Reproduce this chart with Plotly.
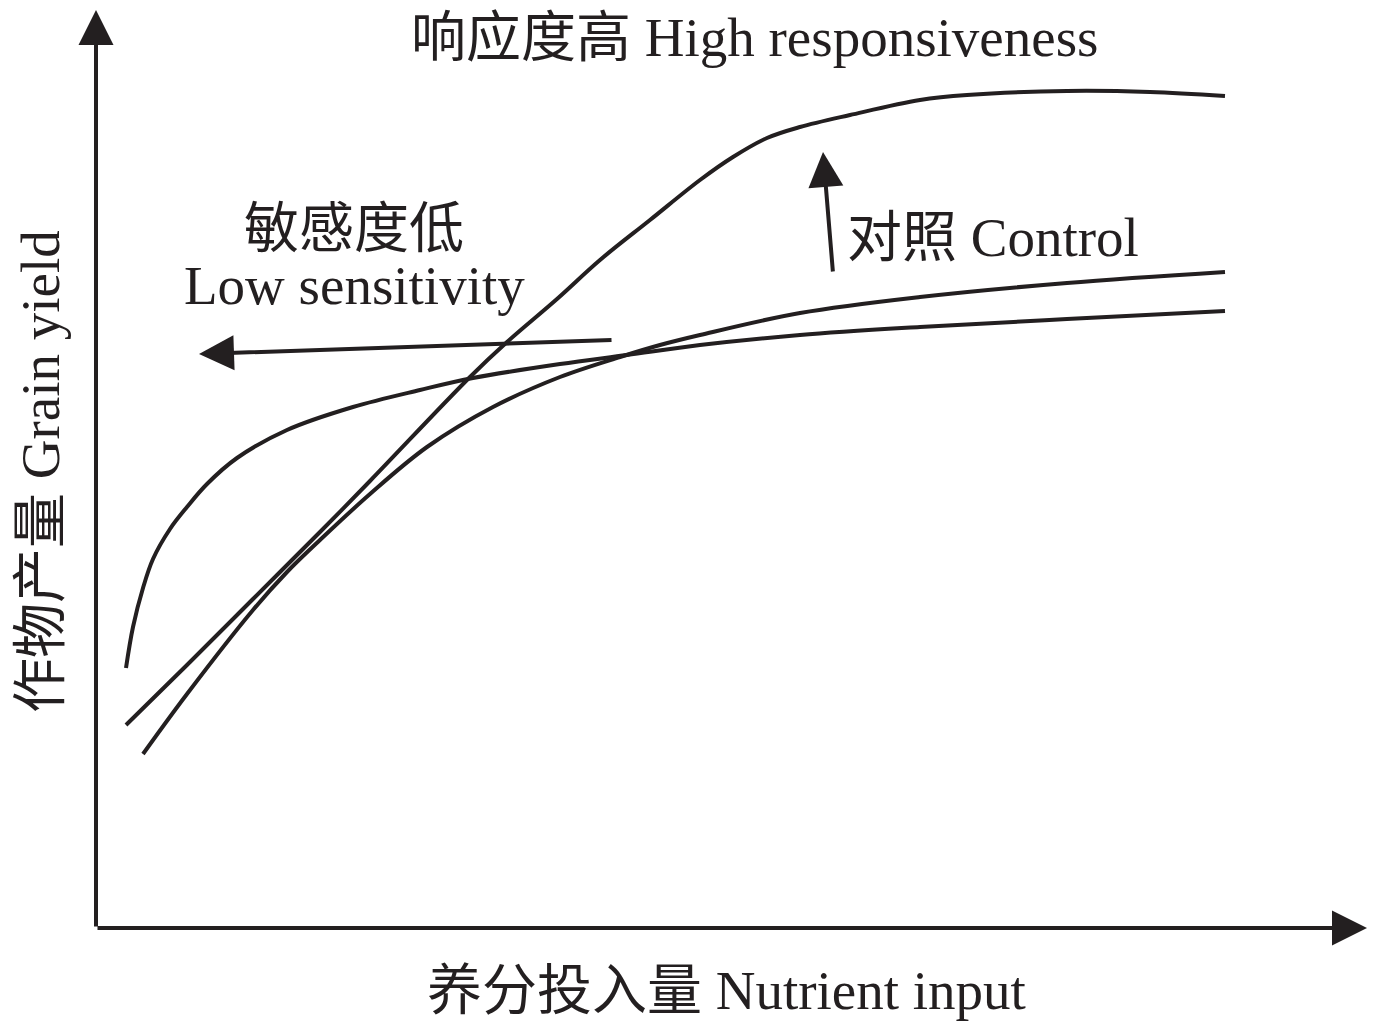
import plotly.graph_objects as go

# Conceptual yield response to nutrient input (arbitrary units, origin at axis corner)
high_x = [30, 91, 157, 224, 274, 374, 411, 461, 504, 554, 604, 637, 671, 704, 754, 824, 871, 971, 1054, 1129]
high_y = [203, 263, 329, 396, 447, 551, 586, 629, 668, 708, 748, 771, 790, 801, 813, 828, 833, 837, 836, 832]

control_x = [47, 91, 157, 191, 224, 274, 331, 397, 464, 524, 564, 604, 704, 824, 971, 1129]
control_y = [174, 234, 318, 356, 388, 434, 481, 521, 551, 571, 583, 593, 615, 631, 645, 656]

low_x = [30, 37, 47, 57, 74, 91, 111, 141, 191, 257, 324, 377, 464, 531, 604, 704, 824, 971, 1129]
low_y = [260, 301, 340, 369, 399, 421, 444, 470, 498, 521, 538, 550, 564, 573, 583, 593, 601, 609, 617]

# arrows: (tail x, tail y, head x, head y)
axis_arrows = [(0, 0, 0, 918), (0, 0, 1271, 0)]
shift_arrows = [(517, 588, 103, 574), (737, 655, 727, 776)]

INK = "#231f20"
FONT = "Liberation Serif, Noto Sans CJK SC"

fig = go.Figure()
for xs, ys in [(high_x, high_y), (control_x, control_y), (low_x, low_y)]:
    fig.add_trace(go.Scatter(
        x=xs, y=ys, mode="lines",
        line=dict(color=INK, width=4, shape="spline", smoothing=1),
        showlegend=False, hoverinfo="skip",
    ))

for x0, y0, x1, y1 in axis_arrows + shift_arrows:
    fig.add_annotation(
        x=x1, y=y1, ax=x0, ay=y0, xref="x", yref="y", axref="x", ayref="y",
        text="", showarrow=True, arrowhead=2, arrowsize=1.75, arrowwidth=4,
        arrowcolor=INK, standoff=0,
    )

labels = [
    ("响应度高 High responsiveness", 658, 891, 0),
    ("敏感度低", 258, 700, 0),
    ("Low sensitivity", 258, 643, 0),
    ("对照 Control", 897, 691, 0),
    ("养分投入量 Nutrient input", 630, -62, 0),
    ("作物产量 Grain yield", -56, 456, -90),
]
for txt, x, y, ang in labels:
    fig.add_annotation(
        x=x, y=y, xref="x", yref="y", text=txt, showarrow=False,
        textangle=ang, font=dict(family=FONT, size=55, color=INK),
    )

fig.update_xaxes(range=[-96, 1282], visible=False, fixedrange=True)
fig.update_yaxes(range=[-96, 928], visible=False, fixedrange=True)
fig.update_layout(
    width=1378, height=1024,
    margin=dict(l=0, r=0, t=0, b=0),
    plot_bgcolor="white", paper_bgcolor="white",
    showlegend=False,
)

# drop the page's default body margin so the figure fills the window
fig.write_html("out.html", config={"displayModeBar": False},
               post_script="document.body.style.margin='0';")
